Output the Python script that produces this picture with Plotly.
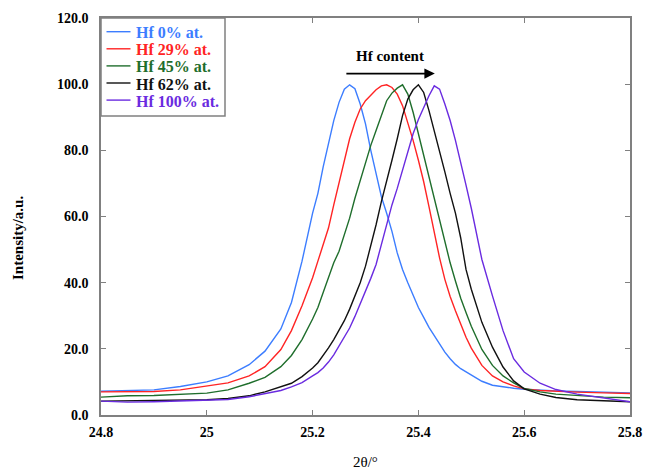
import plotly.graph_objects as go

two_theta = [24.80, 24.85, 24.90, 24.95, 25.00, 25.04, 25.08, 25.11, 25.14, 25.16, 25.18, 25.20,
             25.21, 25.22, 25.23, 25.24, 25.25, 25.26, 25.27, 25.28, 25.29, 25.30,
             25.31, 25.32, 25.33, 25.34, 25.35, 25.36, 25.37, 25.38, 25.39, 25.40,
             25.41, 25.42, 25.43, 25.44, 25.45, 25.46, 25.47, 25.48, 25.49, 25.50,
             25.52, 25.54, 25.56, 25.58, 25.60, 25.63, 25.66, 25.70, 25.75, 25.80]

hf0 = [7.2, 7.3, 7.6, 8.6, 10.0, 11.8, 15.2, 19.3, 26.0, 34.0, 46.5, 61.0,
       67.0, 75.0, 82.0, 89.0, 94.5, 98.5, 99.8, 98.6, 94.0, 88.0,
       80.0, 73.0, 66.0, 61.0, 55.5, 49.0, 44.0, 40.0, 36.0, 32.5,
       29.5, 26.5, 24.0, 21.5, 19.0, 17.0, 15.3, 14.0, 13.0, 12.2,
       10.2, 9.0, 8.5, 8.1, 7.8, 7.5, 7.3, 7.1, 6.9, 6.7]

hf29 = [7.0, 7.0, 7.1, 7.6, 8.7, 9.7, 11.8, 14.6, 19.8, 25.5, 33.0, 41.5,
        46.5, 51.5, 56.5, 63.5, 70.5, 77.5, 83.5, 88.5, 92.5, 95.0,
        96.8, 98.3, 99.5, 99.8, 99.0, 97.0, 93.5, 88.5, 83.0, 77.0,
        70.5, 63.0, 55.0, 47.5, 41.0, 35.8, 31.5, 27.5, 23.5, 20.2,
        15.0, 11.8, 10.0, 8.8, 7.9, 7.4, 7.1, 6.9, 6.7, 6.5]

hf45 = [5.4, 5.8, 5.9, 6.2, 6.6, 7.6, 9.6, 11.4, 14.6, 18.0, 22.8, 29.0,
        32.5, 37.0, 41.5, 46.0, 49.5, 54.5, 59.5, 65.5, 71.0, 76.5,
        81.5, 86.0, 90.5, 95.0, 97.3, 98.8, 99.8, 97.0, 91.5, 85.0,
        78.5, 72.0, 65.5, 59.0, 53.0, 46.0, 40.5, 35.3, 31.0, 26.8,
        19.8, 15.0, 11.8, 9.7, 8.0, 7.0, 6.3, 5.8, 5.4, 5.2]

hf62 = [4.2, 4.3, 4.3, 4.4, 4.6, 5.0, 5.8, 7.0, 8.6, 9.6, 11.6, 14.2,
        15.8, 18.0, 20.3, 22.8, 25.5, 28.5, 32.0, 35.8, 40.0, 45.0,
        51.0, 57.5, 64.5, 70.5, 77.0, 83.5, 90.5, 95.5, 98.3, 99.8,
        97.5, 92.0, 86.0, 79.5, 73.5, 67.0, 61.0, 53.5, 44.0, 38.0,
        28.0, 20.5, 14.5, 10.3, 7.9, 6.3, 5.3, 4.6, 4.3, 4.0]

hf100 = [4.2, 3.9, 4.0, 4.2, 4.5, 4.7, 5.5, 6.5, 7.4, 8.5, 9.8, 11.8,
         12.8, 14.2, 16.0, 18.2, 20.8, 23.3, 26.3, 29.8, 33.5, 37.5,
         41.3, 45.5, 51.5, 57.0, 63.5, 68.5, 74.0, 80.0, 85.0, 89.3,
         93.0, 96.5, 99.5, 98.5, 94.0, 89.0, 83.0, 76.5, 69.5, 62.5,
         47.0, 36.0, 25.5, 17.0, 13.0, 9.6, 7.7, 6.3, 5.2, 4.0]

series_names = ["Hf 0% at.", "Hf 29% at.", "Hf 45% at.", "Hf 62% at.", "Hf 100% at."]
series_values = [hf0, hf29, hf45, hf62, hf100]
series_colors = ["#3c7dff", "#ff2424", "#1f6e2c", "#111111", "#6a2be0"]

x_ticks = [24.8, 25.0, 25.2, 25.4, 25.6, 25.8]
x_tick_labels = ["24.8", "25", "25.2", "25.4", "25.6", "25.8"]
y_ticks = [0, 20, 40, 60, 80, 100, 120]
y_tick_labels = ["0.0", "20.0", "40.0", "60.0", "80.0", "100.0", "120.0"]

font_family = "Liberation Serif, Times New Roman, serif"
frame_color = "#808080"

PLOT_W, PLOT_H = 529, 397

fig = go.Figure()
for name, vals, col in zip(series_names, series_values, series_colors):
    fig.add_trace(go.Scatter(
        x=two_theta, y=vals, mode="lines",
        line=dict(color=col, width=1.4),
        name=name, showlegend=False,
    ))


def px_x(p):  # pixel offset from plot left -> paper
    return p / PLOT_W


def px_y(p):  # pixel offset from plot top -> paper
    return 1 - p / PLOT_H


# legend box
fig.add_shape(type="rect", xref="paper", yref="paper",
              x0=0, x1=px_x(124), y0=px_y(98), y1=1,
              line=dict(color=frame_color, width=1.5), fillcolor="white", layer="above")
for i, (name, col) in enumerate(zip(series_names, series_colors)):
    yy = px_y(13.7 + 17.1 * i)
    fig.add_shape(type="line", xref="paper", yref="paper",
                  x0=px_x(5.5), x1=px_x(29.5), y0=yy, y1=yy,
                  line=dict(color=col, width=1.4), layer="above")
    fig.add_annotation(xref="paper", yref="paper", x=px_x(32.5), y=yy,
                       xanchor="left", yanchor="middle", yshift=-1,
                       text=f"<b>{name}</b>", showarrow=False,
                       font=dict(family=font_family, size=16, color=col))

# Hf content arrow
fig.add_annotation(x=25.431, y=103.2, ax=25.261, ay=103.2, xref="x", yref="y",
                   axref="x", ayref="y", text="", showarrow=True,
                   arrowhead=2, arrowsize=1.3, arrowwidth=1.6, arrowcolor="#000")
fig.add_annotation(x=25.346, y=108.5, xref="x", yref="y", text="<b>Hf content</b>",
                   showarrow=False, font=dict(family=font_family, size=15, color="#000"))

# axis titles
fig.add_annotation(xref="paper", yref="paper", x=0, y=px_y(220), xshift=-83,
                   xanchor="center", yanchor="middle", textangle=-90,
                   text="<b>Intensity/a.u.</b>", showarrow=False,
                   font=dict(family=font_family, size=15, color="#000"))
fig.add_annotation(xref="paper", yref="paper", x=0.5, y=0, yshift=-47,
                   xanchor="center", yanchor="middle",
                   text="2θ/°", showarrow=False,
                   font=dict(family=font_family, size=15, color="#000"))

axis_common = dict(showline=True, linecolor=frame_color, linewidth=1.5, mirror="ticks",
                   ticks="inside", ticklen=5, tickcolor=frame_color, showgrid=False, zeroline=False,
                   automargin=False,
                   tickfont=dict(family=font_family, size=14, color="#000"))

fig.update_xaxes(range=[24.8, 25.8], tickvals=x_ticks,
                 ticktext=[f"<b>{t}</b>" for t in x_tick_labels],
                 ticklabelstandoff=3, **axis_common)
fig.update_yaxes(range=[0, 120], tickvals=y_ticks,
                 ticktext=[f"<b>{t}</b>" for t in y_tick_labels],
                 ticklabelstandoff=8, **axis_common)

fig.update_layout(
    width=645, height=473,
    margin=dict(l=101, r=15, t=18, b=58),
    paper_bgcolor="white", plot_bgcolor="white",
    font=dict(family=font_family, size=14, color="#000"),
    showlegend=False,
)

fig.write_html("out.html", config={"displayModeBar": False},
               post_script="document.body.style.margin='0';document.body.style.overflow='hidden';")
